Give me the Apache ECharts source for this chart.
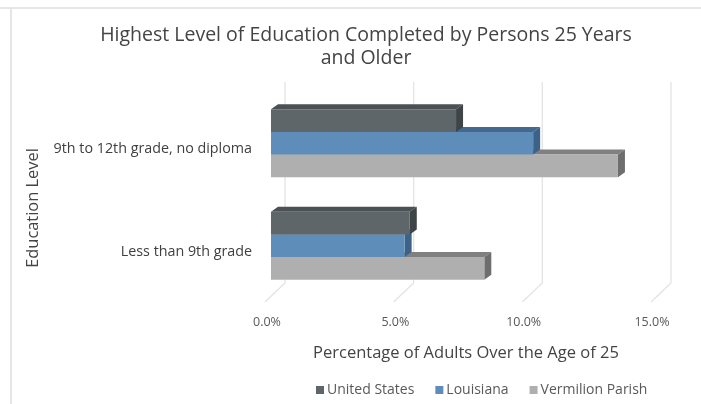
<!DOCTYPE html>
<html>
<head>
<meta charset="utf-8">
<script src="https://cdn.jsdelivr.net/npm/echarts@6/dist/echarts.min.js"></script>
<style>
  html, body { margin: 0; padding: 0; background: #fff; }
  #chart { width: 701px; height: 404px; }
</style>
</head>
<body>
<div id="chart"></div>
<script>
// ---- Data ----
const categories = ['Less than 9th grade', '9th to 12th grade, no diploma'];
const seriesNames = ['United States', 'Louisiana', 'Vermilion Parish'];
const unitedStates = [5.4, 7.2];
const louisiana = [5.2, 10.2];
const vermilionParish = [8.3, 13.5];
const tickValues = [0, 5, 10, 15];

// ---- Styles ----
const FONT = '"Open Sans"';
const palette = [
  { front: '#5f6669', top: '#4b5054', side: '#3f4447' },
  { front: '#5f8dba', top: '#45698e', side: '#3d6287' },
  { front: '#afafaf', top: '#808080', side: '#6e6e6e' }
];
const DX = 7, DY = -5;

function barRenderer(idx) {
  return function (params, api) {
    const val = api.value(0), cat = api.value(1);
    const end = api.coord([val, cat]);
    const start = api.coord([0, cat]);
    const band = api.size([0, 1])[1];
    const gh = band * 0.664;
    const bh = gh / 3;
    const top = end[1] - gh / 2 + idx * bh;
    const x0 = start[0], x1 = end[0];
    const c = palette[idx];
    return {
      type: 'group',
      children: [
        { type: 'polygon', shape: { points: [[x0, top], [x0 + DX, top + DY], [x1 + DX, top + DY], [x1, top]] },
          style: { fill: c.top } },
        { type: 'polygon', shape: { points: [[x1, top], [x1 + DX, top + DY], [x1 + DX, top + bh + DY], [x1, top + bh]] },
          style: { fill: c.side } },
        { type: 'rect', shape: { x: x0, y: top, width: x1 - x0, height: bh },
          style: { fill: c.front } }
      ]
    };
  };
}

const values = [unitedStates, louisiana, vermilionParish];
const barSeries = seriesNames.map((name, i) => ({
  name: name,
  type: 'custom',
  xAxisIndex: 0,
  yAxisIndex: 0,
  z: 10 - i,
  itemStyle: { color: palette[i].front },
  renderItem: barRenderer(i),
  encode: { x: 0, y: 1 },
  data: values[i].map((v, c) => [v, c])
}));

const gridSeries = {
  type: 'custom',
  xAxisIndex: 1,
  yAxisIndex: 1,
  silent: true,
  z: 1,
  renderItem: function (params, api) {
    const v = api.value(0);
    const b = api.coord([v, 0]);
    const t = api.coord([v, 1]);
    return {
      type: 'polyline',
      shape: { points: [[b[0], t[1]], [b[0], b[1]], [b[0] - 20, b[1] + 19]] },
      style: { stroke: '#e4e4e4', lineWidth: 1.3, fill: null }
    };
  },
  encode: { x: 0 },
  data: tickValues.map(v => [v])
};

const chart = echarts.init(document.getElementById('chart'));
chart.setOption({
  backgroundColor: '#ffffff',
  animation: false,
  textStyle: { fontFamily: FONT },
  grid: [
    { left: 271, width: 385.5, top: 92, height: 205 },
    { left: 285, width: 386, top: 82, height: 201 },
    { left: 267, width: 385, top: 92, height: 210 }
  ],
  xAxis: [
    { gridIndex: 0, type: 'value', min: 0, max: 15, interval: 5, show: false },
    { gridIndex: 1, type: 'value', min: 0, max: 15, interval: 5, show: false },
    { gridIndex: 2, type: 'value', min: 0, max: 15, interval: 5,
      axisLine: { show: false }, axisTick: { show: false }, splitLine: { show: false },
      axisLabel: { margin: 14, fontSize: 12.5, color: '#595959', fontFamily: FONT,
        formatter: v => v.toFixed(1) + '%' } }
  ],
  yAxis: [
    { gridIndex: 0, type: 'category', data: categories,
      axisLine: { show: false }, axisTick: { show: false }, splitLine: { show: false },
      axisLabel: { margin: 19, fontSize: 14.3, color: '#404040', fontFamily: FONT,
        verticalAlign: 'top', lineHeight: 12 } },
    { gridIndex: 1, type: 'value', min: 0, max: 1, show: false },
    { gridIndex: 2, type: 'value', min: 0, max: 1, show: false }
  ],
  legend: {
    data: seriesNames,
    left: 311, top: 378,
    icon: 'rect', itemWidth: 8, itemHeight: 8, itemGap: 21,
    textStyle: { fontSize: 14, color: '#595959', fontFamily: FONT, padding: [0, 0, 0, -2] }
  },
  graphic: [
    { type: 'line', shape: { x1: 0, y1: 8, x2: 701, y2: 8 }, style: { stroke: '#e6e6e6', lineWidth: 2 }, silent: true },
    { type: 'line', shape: { x1: 11, y1: 8, x2: 11, y2: 404 }, style: { stroke: '#e6e6e6', lineWidth: 2 }, silent: true },
    { type: 'text', x: 366, y: 24, style: {
        text: 'Highest Level of Education Completed by Persons 25 Years\nand Older',
        textAlign: 'center', font: '19.5px ' + FONT, fill: '#444444', lineHeight: 23 } },
    { type: 'text', x: 33, y: 208, rotation: Math.PI / 2, style: {
        text: 'Education Level', textAlign: 'center', textVerticalAlign: 'middle',
        font: '16.4px ' + FONT, fill: '#444444' } },
    { type: 'text', x: 466, y: 353, style: {
        text: 'Percentage of Adults Over the Age of 25', textAlign: 'center', textVerticalAlign: 'middle',
        font: '16.5px ' + FONT, fill: '#444444' } }
  ],
  series: [gridSeries].concat(barSeries)
});
</script>
</body>
</html>
